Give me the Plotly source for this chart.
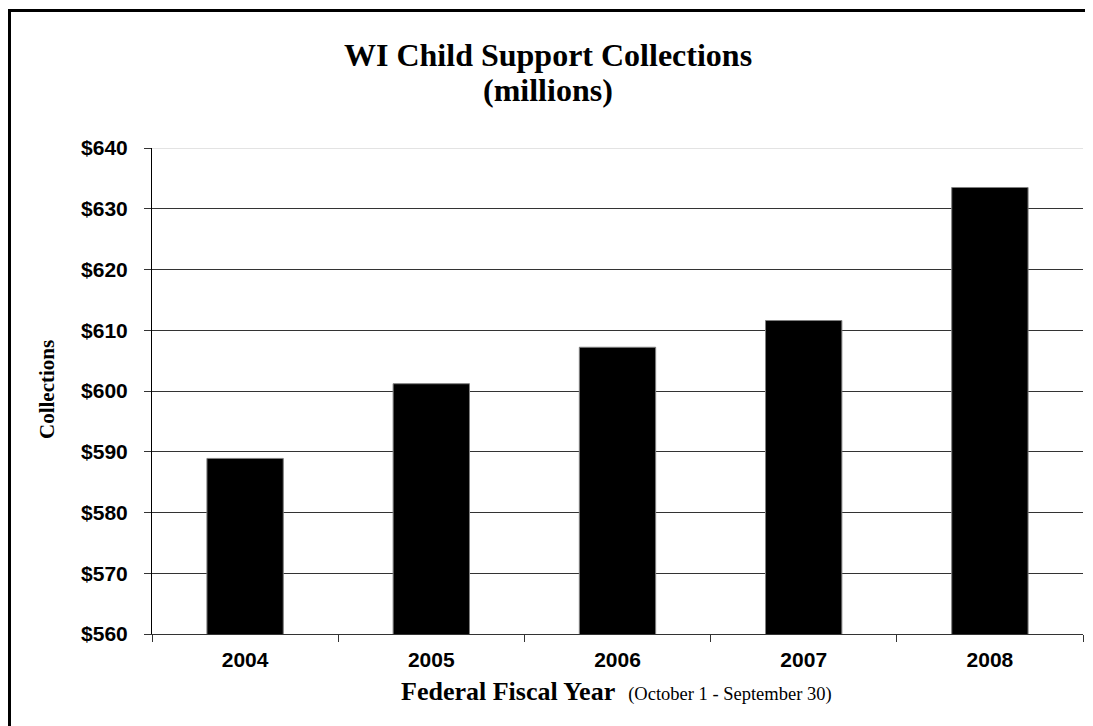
import plotly.graph_objects as go

years = ["2004", "2005", "2006", "2007", "2008"]
collections = [588.9, 601.2, 607.2, 611.6, 633.5]
y_ticks = [560, 570, 580, 590, 600, 610, 620, 630, 640]
y_tick_labels = ["$560", "$570", "$580", "$590", "$600", "$610", "$620", "$630", "$640"]

fig = go.Figure()
fig.add_trace(go.Bar(
    x=years, y=collections,
    marker=dict(color="black", line=dict(color="#7f7f7f", width=1)),
    hoverinfo="skip",
))

# page offset of the figure (browser body margin)
OFF = 8
W, H = 1093 - OFF, 726 - OFF
L, R, T, B = 152 - OFF, 10, 148 - OFF, 92
pw, ph = W - L - R, H - T - B

def px_x(page_x):
    return (page_x - OFF - L) / pw

def px_y(page_y):
    return (H - B - (page_y - OFF)) / ph

fig.update_layout(
    width=W, height=H,
    margin=dict(l=L, r=R, t=T, b=B),
    paper_bgcolor="white", plot_bgcolor="white",
    showlegend=False,
    bargap=0.59,
    xaxis=dict(
        type="category",
        tickson="boundaries", ticks="outside", ticklen=7, tickcolor="#333333",
        showline=True, linecolor="#333333", linewidth=1,
        showgrid=False,
        tickfont=dict(family="Liberation Sans", size=21, color="black", weight="bold"),
        ticklabelstandoff=7,
    ),
    yaxis=dict(
        range=[560, 640],
        tickvals=y_ticks, ticktext=y_tick_labels,
        ticks="outside", ticklen=7, tickcolor="#333333",
        showline=True, linecolor="black", linewidth=1,
        showgrid=True, gridcolor="#333333", gridwidth=1,
        zeroline=False,
        tickfont=dict(family="Liberation Sans", size=21, color="black", weight="bold"),
        ticklabelstandoff=12,
    ),
    shapes=[
        dict(type="line", xref="paper", yref="y", x0=0, x1=1, y0=640, y1=640,
             line=dict(color="#c8c8c8", width=1), layer="above"),
        dict(type="rect", xref="paper", yref="paper",
             x0=px_x(9.5), x1=px_x(1120), y0=px_y(760), y1=px_y(10.5),
             line=dict(color="black", width=3), fillcolor="rgba(0,0,0,0)"),
    ],
    annotations=[
        dict(text="<b>WI Child Support Collections</b>",
             xref="paper", yref="paper", x=px_x(548), y=px_y(55),
             xanchor="center", yanchor="middle", showarrow=False,
             font=dict(family="Liberation Serif", size=32, color="black")),
        dict(text="<b>(millions)</b>",
             xref="paper", yref="paper", x=px_x(548), y=px_y(90),
             xanchor="center", yanchor="middle", showarrow=False,
             font=dict(family="Liberation Serif", size=32, color="black")),
        dict(text="<b>Collections</b>", textangle=-90,
             xref="paper", yref="paper", x=px_x(47), y=px_y(390),
             xanchor="center", yanchor="middle", showarrow=False,
             font=dict(family="Liberation Serif", size=21, color="black")),
        dict(text="<b>Federal Fiscal Year</b>  <span style='font-size:18.5px'>(October 1 - September 30)</span>",
             xref="paper", yref="paper", x=px_x(616), y=px_y(691),
             xanchor="center", yanchor="middle", showarrow=False,
             font=dict(family="Liberation Serif", size=26, color="black")),
    ],
)

fig.write_html("out.html")
